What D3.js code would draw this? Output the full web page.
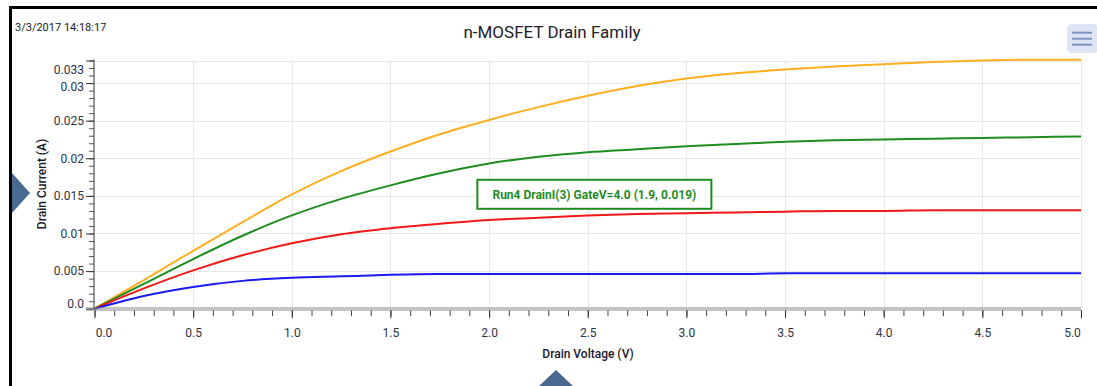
<!DOCTYPE html>
<html>
<head>
<meta charset="utf-8">
<script src="https://cdn.jsdelivr.net/npm/d3@7"></script>
<style>
  html, body { margin: 0; padding: 0; background: #fff; }
  svg { display: block; font-family: Roboto, "Noto Sans", sans-serif; }
</style>
</head>
<body>
<svg id="chart" width="1097" height="386"></svg>
<script>
// Drain voltage sweep (V)
const drainVoltage = [0, 0.25, 0.5, 0.75, 1.0, 1.25, 1.5, 1.75, 2.0, 2.25, 2.5,
  2.75, 3.0, 3.25, 3.5, 3.75, 4.0, 4.25, 4.5, 4.75, 5.0];

// Drain current (A) for each gate run
const runOrange = [0, 0.0038, 0.0077, 0.0115, 0.0152, 0.0183, 0.0209, 0.0232, 0.0251, 0.0268, 0.0283,
  0.0296, 0.0306, 0.0313, 0.0318, 0.0322, 0.0325, 0.0328, 0.0330, 0.0331, 0.0331];
const runGreen = [0, 0.0033, 0.0066, 0.0097, 0.0124, 0.0146, 0.0164, 0.0180, 0.0193, 0.0202, 0.0208,
  0.0212, 0.0216, 0.0219, 0.0222, 0.0224, 0.0225, 0.0226, 0.0227, 0.0228, 0.0229];
const runRed = [0, 0.0027, 0.0051, 0.0071, 0.0087, 0.0099, 0.0107, 0.0113, 0.0118, 0.0121, 0.0124,
  0.0126, 0.0127, 0.0128, 0.0129, 0.0130, 0.0130, 0.0131, 0.0131, 0.0131, 0.0131];
const runBlue = [0, 0.0017, 0.0029, 0.0037, 0.0041, 0.0043, 0.0045, 0.0046, 0.0046, 0.0046, 0.0046,
  0.0046, 0.0046, 0.0046, 0.0047, 0.0047, 0.0047, 0.0047, 0.0047, 0.0047, 0.0047];

const seriesNames = ["orange", "green", "red", "blue"];
const seriesColors = ["#FFAE1F", "#1F8C1F", "#F21818", "#1A1AF0"];
const seriesValues = [runOrange, runGreen, runRed, runBlue];

// Axis ticks and labels
const xTickValues = [0, 0.5, 1, 1.5, 2, 2.5, 3, 3.5, 4, 4.5, 5];
const xTickLabels = ["0.0", "0.5", "1.0", "1.5", "2.0", "2.5", "3.0", "3.5", "4.0", "4.5", "5.0"];
const yTickValues = [0, 0.005, 0.01, 0.015, 0.02, 0.025, 0.03, 0.033];
const yTickLabels = ["0.0", "0.005", "0.01", "0.015", "0.02", "0.025", "0.03", "0.033"];

// Readout shown for the selected point
const readoutText = "Run4 DrainI(3) GateV=4.0 (1.9, 0.019)";
const readoutPoint = [1.9, 0.019];

const titleText = "n-MOSFET Drain Family";
const stampText = "3/3/2017 14:18:17";

const svg = d3.select("#chart");
const plot = { left: 94.5, right: 1081, top: 60.5, bottom: 308.7 };

const x = d3.scaleLinear().domain([0, 5]).range([plot.left, plot.right]);
const y = d3.scaleLinear().domain([0, 0.033]).range([plot.bottom, plot.top]);

// Frame edges
svg.append("line").attr("x1", 9).attr("x2", 1097).attr("y1", 7.5).attr("y2", 7.5)
  .attr("stroke", "#000").attr("stroke-width", 3);
svg.append("line").attr("x1", 10.5).attr("x2", 10.5).attr("y1", 6).attr("y2", 386)
  .attr("stroke", "#000").attr("stroke-width", 3);

// Timestamp and title
svg.append("text").attr("x", 15).attr("y", 31).attr("font-size", 11).attr("fill", "#222")
  .text(stampText);
svg.append("text").attr("x", 552).attr("y", 38).attr("text-anchor", "middle")
  .attr("font-size", 17).attr("fill", "#222").text(titleText);

// Menu button
const menu = svg.append("g");
menu.append("rect").attr("x", 1067).attr("y", 24).attr("width", 32).attr("height", 29)
  .attr("rx", 5).attr("fill", "#DDE4F3");
[32.7, 38.7, 44.7].forEach(v => {
  menu.append("line").attr("x1", 1072).attr("x2", 1092).attr("y1", v).attr("y2", v)
    .attr("stroke", "#7A93C2").attr("stroke-width", 2);
});

// Grid
const grid = svg.append("g").attr("stroke", "#E8E8E8").attr("stroke-width", 1);
grid.selectAll("line.v").data(xTickValues.slice(1)).join("line")
  .attr("x1", d => Math.round(x(d)) + 0.5).attr("x2", d => Math.round(x(d)) + 0.5)
  .attr("y1", plot.top).attr("y2", plot.bottom);
grid.selectAll("line.h").data(yTickValues.slice(1)).join("line")
  .attr("x1", plot.left).attr("x2", plot.right)
  .attr("y1", d => Math.round(y(d)) + 0.5).attr("y2", d => Math.round(y(d)) + 0.5);

// Curves
const line = d3.line().x(d => x(d[0])).y(d => y(d[1])).curve(d3.curveMonotoneX);
const curves = svg.append("g").attr("fill", "none").attr("stroke-width", 2)
  .attr("stroke-linejoin", "round");
seriesValues.forEach((vals, i) => {
  curves.append("path")
    .datum(drainVoltage.map((v, k) => [v, vals[k]]))
    .attr("class", "run-" + seriesNames[i])
    .attr("stroke", seriesColors[i])
    .attr("d", line);
});

// Y axis: minor ticks every 0.001, major ticks with labels
const yMinor = d3.range(0, 34).map(i => i / 1000);
svg.append("g").attr("transform", `translate(${plot.left - 0.5},0)`)
  .call(d3.axisLeft(y).tickValues(yMinor).tickSize(5).tickFormat(""))
  .call(g => g.select(".domain").remove())
  .call(g => g.selectAll(".tick line").attr("stroke", "#555"));
const yAxis = svg.append("g").attr("transform", `translate(${plot.left - 0.5},0)`)
  .call(d3.axisLeft(y).tickValues(yTickValues).tickSize(8).tickPadding(2)
    .tickFormat((d, i) => yTickLabels[i]));
yAxis.select(".domain").attr("stroke", "#333").attr("d", `M-0,${plot.top - 1}V${plot.bottom}`);
yAxis.selectAll(".tick line").attr("stroke", "#333");
yAxis.selectAll(".tick text").attr("font-size", 12).attr("fill", "#2B3445")
  .attr("font-family", "Roboto, sans-serif")
  .attr("dy", (d, i) => d === 0.033 ? "1.1em" : d === 0.03 ? "0.6em" : d === 0 ? "-0.1em" : "0.32em");

// X axis: minor ticks every 0.1, major every 0.5
const xMinor = d3.range(0, 51).map(i => i / 10);
svg.append("g").attr("transform", `translate(0,${plot.bottom + 1.5})`)
  .call(d3.axisBottom(x).tickValues(xMinor).tickSize(6).tickFormat(""))
  .call(g => g.select(".domain").remove())
  .call(g => g.selectAll(".tick line").attr("stroke", "#444"));
const xAxis = svg.append("g").attr("transform", `translate(0,${plot.bottom + 1.5})`)
  .call(d3.axisBottom(x).tickValues(xTickValues).tickSize(8).tickPadding(10)
    .tickFormat((d, i) => xTickLabels[i]));
xAxis.select(".domain").remove();
xAxis.selectAll(".tick line").attr("stroke", "#333");
xAxis.selectAll(".tick text").attr("font-size", 12).attr("fill", "#2B3445")
  .attr("font-family", "Roboto, sans-serif")
  .attr("dx", d => d === 0 ? 9 : d === 5 ? -9 : 0);

// Double baseline
[plot.bottom - 0.7, plot.bottom + 1.3].forEach(v => {
  svg.append("line").attr("x1", 86).attr("x2", plot.right).attr("y1", v).attr("y2", v)
    .attr("stroke", "#888").attr("stroke-width", 1.2);
});

// Axis titles
svg.append("text").attr("x", 588).attr("y", 358).attr("text-anchor", "middle")
  .attr("font-size", 12).attr("font-weight", 500).attr("fill", "#1a1a2a").text("Drain Voltage (V)");
svg.append("text").attr("transform", "translate(46,184) rotate(-90)").attr("text-anchor", "middle")
  .attr("font-size", 12).attr("font-weight", 500).attr("fill", "#1a1a2a").text("Drain Current (A)");

// Readout box anchored to its point
const bx = x(readoutPoint[0]) + 8, by = y(readoutPoint[1]) + 14;
const readout = svg.append("g").attr("transform", `translate(${bx},${by})`);
readout.append("rect").attr("x", 0).attr("y", 0).attr("width", 234).attr("height", 29)
  .attr("fill", "#fff").attr("stroke", "#1F8C1F").attr("stroke-width", 2);
readout.append("text").attr("x", 117).attr("y", 19).attr("text-anchor", "middle")
  .attr("font-size", 12).attr("font-weight", 700).attr("fill", "#1F8C1F").text(readoutText);

// Navigation markers
svg.append("path").attr("d", "M12,173L30,193L12,213Z").attr("fill", "#4A6990");
svg.append("path").attr("d", "M538,387L556,370L574,387Z").attr("fill", "#4A6990");
</script>
</body>
</html>
